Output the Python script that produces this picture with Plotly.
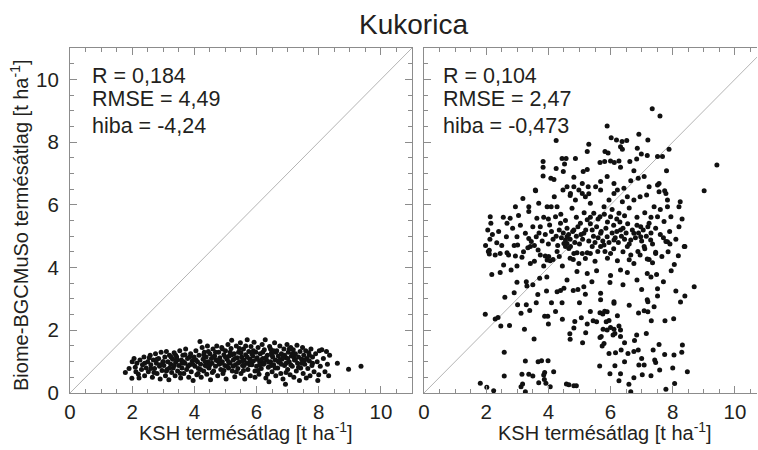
import plotly.graph_objects as go

# ---------------- data ----------------
title_text = "Kukorica"
x_title = "KSH termésátlag [t ha<sup>-1</sup>]"
y_title = "Biome-BGCMuSo termésátlag [t ha<sup>-1</sup>]"
left_stats = ["R = 0,184", "RMSE = 4,49", "hiba = -4,24"]
right_stats = ["R = 0,104", "RMSE = 2,47", "hiba = -0,473"]
tick_vals = [0, 2, 4, 6, 8, 10]
tick_text = ["0", "2", "4", "6", "8", "10"]
one_to_one = [0, 11]

left_ksh = [
    1.78, 1.99, 2.0, 2.06, 2.1, 2.15, 2.2, 2.22, 2.25, 2.3,
    2.33, 2.38, 2.4, 2.45, 2.5, 2.52, 2.58, 2.6, 2.65, 2.68,
    2.72, 2.75, 2.78, 2.8, 2.85, 2.88, 2.9, 2.93, 2.96, 2.99,
    3.02, 3.05, 3.07, 3.1, 3.12, 3.15, 3.18, 3.2, 3.24, 3.27,
    3.3, 3.32, 3.35, 3.38, 3.4, 3.43, 3.46, 3.5, 3.53, 3.56,
    3.58, 3.6, 3.63, 3.66, 3.7, 3.72, 3.75, 3.78, 3.82, 3.85,
    3.88, 3.9, 3.93, 3.96, 3.99, 4.02, 4.05, 4.08, 4.1, 4.13,
    4.15, 4.18, 4.2, 4.22, 4.25, 4.28, 4.3, 4.32, 4.35, 4.38,
    4.4, 4.42, 4.45, 4.47, 4.5, 4.52, 4.55, 4.57, 4.6, 4.62,
    4.65, 4.68, 4.7, 4.72, 4.75, 4.78, 4.8, 4.82, 4.85, 4.88,
    4.9, 4.92, 4.95, 4.98, 5.0, 5.02, 5.05, 5.08, 5.1, 5.12,
    5.15, 5.18, 5.2, 5.22, 5.25, 5.28, 5.3, 5.32, 5.35, 5.38,
    5.4, 5.42, 5.45, 5.48, 5.5, 5.52, 5.55, 5.58, 5.6, 5.62,
    5.65, 5.68, 5.7, 5.72, 5.75, 5.78, 5.8, 5.82, 5.85, 5.88,
    5.9, 5.92, 5.95, 5.98, 6.0, 6.02, 6.05, 6.08, 6.1, 6.12,
    6.15, 6.18, 6.2, 6.22, 6.25, 6.28, 6.3, 6.32, 6.35, 6.38,
    6.4, 6.42, 6.45, 6.48, 6.5, 6.52, 6.55, 6.58, 6.6, 6.62,
    6.65, 6.68, 6.7, 6.72, 6.75, 6.78, 6.8, 6.82, 6.85, 6.88,
    6.9, 6.93, 6.95, 6.98, 7.0, 7.02, 7.05, 7.08, 7.1, 7.12,
    7.15, 7.18, 7.2, 7.22, 7.25, 7.28, 7.3, 7.32, 7.35, 7.38,
    7.4, 7.42, 7.45, 7.48, 7.5, 7.52, 7.55, 7.58, 7.6, 7.62,
    7.65, 7.68, 7.7, 7.72, 7.75, 7.78, 7.8, 7.85, 7.9, 7.97,
    7.95, 8.0, 8.02, 8.05, 8.1, 8.15, 8.2, 8.25, 8.28, 8.32,
    8.6, 8.96, 9.36, 1.9, 2.12, 8.35,
    4.05, 4.2, 4.35, 4.5, 4.6, 4.75, 4.85, 5.0, 5.1, 5.2,
    5.3, 5.4, 5.5, 5.6, 5.7, 5.8, 5.9, 6.0, 6.1, 6.2,
    6.3, 6.4, 6.5, 6.6, 6.7, 6.8, 6.9, 7.0, 7.1, 7.2,
    3.0, 3.2, 3.4, 3.6, 3.8, 2.6, 2.8, 3.7, 3.55, 3.25,
    4.45, 4.9, 5.35, 5.65, 6.05, 6.45, 6.75, 7.05, 7.45, 7.7,
    4.12, 4.58, 5.05, 5.45, 5.95, 6.35, 6.62, 6.95, 7.25, 7.55,
    4.3, 4.68, 4.95, 5.25, 5.55, 5.85, 6.15, 6.48, 6.85, 7.15,
    4.4, 4.8, 5.15, 5.58, 5.78, 6.25, 6.55, 6.95, 7.35, 7.8,
    2.4, 2.55, 2.9, 3.1, 3.45, 3.65, 3.95, 3.85, 2.7, 3.35,
]
left_model = [
    0.65, 0.47, 1.0, 1.1, 0.82, 0.95, 0.6, 0.48, 1.05, 0.75,
    0.9, 1.15, 0.55, 0.8, 1.0, 0.68, 1.2, 0.9, 0.5, 1.05,
    0.78, 1.25, 0.95, 0.62, 1.1, 0.85, 0.45, 1.3, 0.72, 1.0,
    0.88, 1.15, 0.55, 1.32, 0.75, 1.0, 0.42, 1.2, 0.92, 0.65,
    1.08, 0.8, 1.28, 0.55, 0.98, 1.15, 0.7, 0.88, 1.35, 0.48,
    1.05, 0.8, 1.2, 0.62, 0.95, 1.4, 0.75, 1.1, 0.5, 0.9,
    1.25, 0.68, 1.02, 0.4, 1.15, 0.85, 1.35, 0.58, 1.0, 0.78,
    1.2, 1.64, 0.92, 0.5, 1.45, 1.08, 0.7, 1.3, 0.88, 1.15,
    0.6, 1.5, 1.0, 0.8, 1.25, 0.42, 1.1, 0.95, 1.4, 0.7,
    1.18, 0.85, 1.05, 1.5, 0.55, 1.3, 0.92, 1.12, 0.75, 1.45,
    1.0, 0.62, 1.22, 0.88, 1.35, 0.45, 1.08, 1.55, 0.8, 1.18,
    0.95, 1.42, 1.68, 0.7, 1.05, 1.25, 0.52, 0.9, 1.5, 1.12,
    0.78, 1.3, 1.0, 1.6, 0.62, 1.15, 0.88, 1.4, 1.05, 0.45,
    1.22, 0.95, 1.7, 0.75, 1.32, 1.08, 0.55, 1.48, 0.9, 1.18,
    1.02, 1.62, 0.7, 1.3, 0.85, 1.12, 1.45, 0.6, 1.0, 1.25,
    0.78, 1.55, 1.1, 0.92, 1.38, 1.7, 0.48, 1.05, 1.2, 0.82,
    0.36, 1.48, 1.0, 1.28, 0.68, 1.15, 0.9, 1.6, 1.05, 0.55,
    1.35, 0.8, 1.18, 0.98, 1.5, 0.62, 1.25, 1.08, 0.45, 1.4,
    0.88, 0.28, 1.12, 1.55, 0.75, 1.3, 1.0, 0.58, 1.45, 1.18,
    0.85, 1.38, 0.5, 1.05, 1.25, 0.7, 1.52, 0.95, 1.15, 0.4,
    1.32, 0.8, 1.08, 1.45, 0.62, 1.2, 0.92, 1.35, 0.48, 1.1,
    0.78, 1.28, 1.02, 0.55, 1.4, 0.88, 1.15, 0.68, 1.25, 0.4,
    1.0, 0.58, 1.35, 0.85, 1.38, 1.1, 0.68, 1.32, 0.92, 0.55,
    0.95, 0.76, 0.85, 0.78, 0.68, 1.2,
    1.05, 0.75, 1.0, 0.9, 1.15, 1.02, 0.95, 1.15, 1.0, 1.22,
    1.1, 0.95, 1.28, 0.88, 1.15, 1.0, 1.35, 1.08, 0.9, 1.3,
    1.12, 0.98, 1.2, 0.8, 1.02, 0.92, 1.2, 1.1, 0.9, 1.15,
    1.0, 0.8, 1.2, 0.95, 0.85, 0.78, 1.08, 1.22, 0.62, 1.15,
    1.32, 1.4, 0.68, 1.5, 0.72, 1.4, 1.05, 1.4, 0.95, 1.2,
    0.62, 0.65, 0.85, 1.42, 0.5, 0.6, 1.3, 0.65, 1.05, 1.05,
    1.22, 1.3, 0.72, 0.85, 1.02, 1.25, 1.05, 0.88, 1.15, 1.25,
    0.85, 1.05, 1.3, 0.72, 0.9, 0.95, 1.35, 0.95, 0.82, 0.95,
    0.95, 1.12, 0.9, 0.7, 1.05, 1.0, 0.92, 1.15, 0.65, 0.88,
]

right_ksh = [
    7.34, 7.59, 5.89, 6.91, 4.25, 6.02, 6.19, 6.37, 6.52, 7.2,
    5.3, 5.25, 5.82, 5.92, 6.32, 6.38, 6.86, 6.99, 7.18, 7.88,
    7.67, 7.51, 9.42, 9.01, 3.83, 3.83, 3.83, 4.08, 4.18, 4.25,
    4.48, 4.52, 4.44, 4.57, 4.87, 5.25, 5.12, 5.66, 5.81, 6.0,
    6.12, 6.27, 6.62, 6.84, 6.32, 6.75, 6.89, 6.65, 7.8, 7.51,
    7.56, 7.74, 7.83, 8.24, 8.2, 3.59, 3.18, 5.68, 5.52, 5.09,
    4.82, 5.89, 6.11, 6.43, 7.08, 7.24, 4.82, 5.68, 4.7, 5.3,
    2.13, 2.15, 2.34, 2.67, 2.77, 2.65, 2.94, 3.04, 2.99, 3.37,
    3.37, 3.26, 3.37, 3.58, 3.69, 3.63, 3.74, 3.61, 3.96, 4.09,
    4.19, 4.28, 4.23, 4.04, 4.39, 4.47, 4.6, 4.71, 4.76, 4.87,
    4.98, 5.09, 5.19, 5.28, 5.35, 5.46, 5.25, 5.03, 4.82, 4.6,
    4.5, 4.71, 5.14, 5.41, 5.68, 5.66, 5.79, 5.95, 6.11, 6.22,
    6.38, 6.54, 6.75, 6.95, 7.16, 7.4, 7.56, 7.78, 7.83, 7.51,
    7.24, 6.97, 6.75, 6.65, 6.32, 6.11, 5.89, 6.97, 7.29, 7.83,
    8.37, 7.72, 7.94, 6.0, 6.27, 5.41, 5.79, 6.54, 7.08, 2.1,
    2.07, 2.1, 2.29, 2.45, 2.67, 2.72, 2.56, 2.45, 2.18, 2.8,
    2.99, 2.94, 3.15, 3.01, 3.42, 3.45, 3.34, 3.67, 3.74, 3.9,
    3.96, 4.06, 4.15, 4.01, 4.28, 4.55, 4.6, 4.66, 4.82, 4.92,
    5.09, 5.25, 5.19, 4.8, 4.98, 4.92, 5.25, 5.59, 5.68, 5.82,
    6.0, 6.22, 6.32, 6.54, 6.65, 6.75, 6.88, 7.18, 7.24, 7.45,
    3.42, 3.72, 3.29, 2.99, 3.31, 7.45, 7.78, 7.91, 8.39, 8.18,
    3.01, 3.29, 3.12, 3.4, 3.61, 3.66, 3.94, 3.98, 3.23, 3.54,
    3.88, 4.23, 4.1, 4.44, 4.28, 4.39, 4.5, 4.8, 5.0, 5.14,
    5.19, 5.06, 4.85, 4.82, 4.69, 4.7, 1.97, 2.29, 2.38, 2.47,
    5.66, 5.75, 5.81, 5.89, 5.95, 5.86, 5.76, 5.89, 6.0, 6.11,
    6.27, 6.32, 6.14, 6.08, 6.32, 6.22, 6.11, 6.11, 5.98, 5.68,
    5.68, 5.44, 5.55, 5.25, 5.2, 5.7, 5.66, 5.73, 5.79, 5.95,
    6.16, 6.34, 6.56, 6.75, 6.89, 6.77, 6.84, 7.15, 7.08, 7.2,
    7.31, 7.18, 7.2, 7.51, 7.51, 7.48, 7.18, 8.03, 8.69, 8.39,
    1.81, 2.02, 2.24, 2.58, 2.58, 3.26, 3.37, 3.15, 3.5, 3.67,
    3.78, 3.99, 3.88, 3.85, 4.17, 3.69, 3.87, 3.92, 4.06, 3.12,
    3.17, 3.26, 4.58, 4.66, 4.82, 4.9, 5.65, 5.98, 6.14, 6.32,
    6.27, 6.45, 6.59, 6.65, 6.75, 6.91, 7.02, 7.08, 7.42, 7.45,
    7.58, 7.78, 7.56, 7.37, 7.74, 8.04, 8.29, 8.31, 8.47, 8.06,
    3.8, 3.9, 4.0, 4.1, 4.15, 4.25, 4.3, 4.35, 4.42, 4.48,
    4.55, 4.6, 4.65, 4.7, 4.78, 4.85, 4.9, 4.95, 5.0, 5.05,
    5.1, 5.2, 5.3, 5.35, 5.45, 5.5, 5.55, 5.6, 5.7, 5.75,
    5.85, 5.9, 5.95, 6.05, 6.1, 6.15, 6.2, 6.25, 6.3, 6.35,
    6.4, 6.45, 6.5, 6.55, 6.6, 6.7, 6.8, 6.85, 6.9, 7.0,
    7.05, 7.15, 7.2, 7.3, 7.35, 7.45, 7.6, 7.7, 7.9, 8.1,
    3.5, 3.55, 3.7, 3.85, 4.0, 4.4, 4.55, 4.9, 5.15, 5.35,
    5.6, 5.8, 6.05, 6.2, 6.45, 6.6, 6.85, 7.1, 7.3, 7.6,
    3.2, 3.55, 3.85, 4.35, 4.45, 4.7, 5.35, 5.5, 5.9, 6.1,
    6.4, 6.6, 6.95, 7.1, 7.35, 7.65, 7.85, 8.05, 8.2, 8.3,
    2.9, 3.5, 3.95, 4.6, 4.95, 5.4, 5.55, 6.0, 6.4, 6.85,
    7.0, 7.3, 7.7, 7.95, 8.1, 2.6, 4.0, 4.45, 5.35, 6.6,
    6.9, 7.4, 7.75, 8.25, 5.1, 6.45, 7.0, 7.3, 8.0, 2.75,
    2.05, 2.12, 1.98, 2.2, 2.4, 2.55, 2.85, 3.1, 2.5, 2.9,
]
right_model = [
    9.06, 8.83, 8.51, 8.25, 8.05, 8.14, 8.07, 8.02, 8.05, 8.07,
    7.93, 7.7, 7.7, 7.65, 7.85, 7.77, 7.8, 7.62, 7.57, 7.77,
    7.54, 7.54, 7.27, 6.45, 7.38, 7.2, 6.92, 6.85, 6.81, 7.16,
    7.06, 7.3, 7.48, 7.48, 7.48, 7.13, 7.06, 7.35, 7.38, 7.4,
    7.35, 7.4, 7.38, 7.46, 7.2, 7.09, 6.85, 6.77, 7.09, 6.63,
    6.68, 6.45, 6.15, 6.1, 5.94, 6.45, 6.2, 6.74, 6.58, 6.68,
    6.58, 6.9, 6.68, 6.53, 6.9, 6.58, 6.88, 6.47, 6.3, 6.35,
    5.62, 5.41, 4.79, 5.41, 5.57, 4.98, 5.94, 5.66, 4.98, 5.94,
    5.79, 5.09, 4.93, 6.47, 6.05, 5.57, 5.3, 4.98, 5.94, 5.94,
    6.26, 5.94, 5.62, 5.36, 5.41, 6.47, 6.58, 6.36, 5.89, 6.15,
    6.47, 6.36, 6.26, 6.58, 6.05, 5.73, 5.52, 5.41, 5.2, 4.98,
    4.77, 4.67, 5.09, 5.2, 5.09, 5.62, 5.94, 6.15, 6.36, 6.47,
    6.1, 6.26, 6.15, 6.26, 6.31, 5.94, 6.42, 6.36, 5.94, 5.62,
    5.41, 5.3, 5.09, 4.88, 5.2, 4.88, 4.98, 4.98, 4.88, 4.82,
    4.67, 5.47, 5.62, 5.62, 5.73, 4.67, 4.72, 4.67, 4.67, 4.55,
    4.51, 4.43, 4.4, 4.45, 4.47, 4.4, 4.08, 3.84, 3.78, 3.92,
    4.05, 4.37, 4.33, 4.72, 4.67, 4.83, 4.63, 4.56, 4.4, 4.37,
    4.24, 4.22, 4.26, 4.35, 4.51, 4.67, 4.77, 4.61, 4.45, 4.47,
    4.45, 4.47, 4.29, 4.26, 4.13, 3.87, 3.81, 4.51, 4.67, 4.51,
    4.45, 4.22, 3.92, 3.84, 4.4, 4.13, 4.51, 3.81, 4.26, 4.45,
    4.13, 3.66, 3.55, 3.53, 3.41, 4.49, 4.83, 4.75, 4.67, 4.38,
    2.81, 2.81, 2.54, 2.63, 2.88, 3.14, 3.25, 2.45, 2.03, 1.72,
    2.45, 2.6, 2.88, 2.88, 3.23, 3.27, 3.34, 3.27, 2.88, 3.39,
    3.15, 2.4, 2.28, 2.07, 1.89, 1.71, 2.51, 2.36, 2.41, 2.14,
    2.56, 2.52, 2.61, 2.59, 2.31, 2.27, 2.03, 2.01, 2.09, 2.03,
    2.14, 2.01, 1.9, 1.85, 1.8, 2.46, 2.86, 2.91, 3.52, 3.18,
    2.97, 2.3, 2.27, 2.2, 1.92, 1.8, 1.77, 1.5, 1.58, 1.26,
    1.28, 1.37, 1.26, 1.32, 1.37, 1.67, 1.85, 1.9, 2.62, 2.59,
    2.3, 2.97, 2.91, 3.09, 3.32, 3.78, 4.27, 2.37, 3.39, 3.09,
    0.31, 0.18, 0.07, 0.54, 1.3, 1.02, 0.6, 0.6, 0.54, 1.0,
    1.03, 1.03, 0.65, 0.57, 0.68, 0.33, 0.43, 0.31, 0.2, 0.2,
    0.29, 0.04, 0.29, 0.26, 0.23, 0.23, 0.86, 0.61, 0.87, 0.61,
    0.39, 1.0, 0.28, 0.04, 0.49, 0.89, 0.58, 0.89, 1.05, 0.97,
    0.73, 0.12, 1.55, 1.37, 1.23, 1.21, 1.3, 1.53, 0.68, 0.3,
    4.85, 5.05, 4.75, 5.15, 4.9, 5.0, 4.7, 5.2, 4.95, 5.1,
    4.88, 5.25, 5.05, 4.9, 5.15, 4.8, 5.0, 5.3, 4.75, 5.05,
    4.9, 5.2, 4.85, 5.4, 5.0, 4.8, 5.3, 4.95, 5.15, 4.85,
    5.25, 5.45, 4.8, 5.1, 5.35, 4.95, 5.15, 4.8, 5.45, 5.0,
    5.25, 4.9, 5.1, 5.4, 4.75, 5.2, 4.95, 5.35, 5.1, 4.85,
    5.2, 5.0, 5.3, 5.1, 4.75, 5.25, 5.05, 4.95, 5.15, 4.9,
    5.3, 4.7, 5.1, 5.6, 5.55, 5.7, 5.5, 5.6, 5.75, 5.6,
    5.55, 5.7, 5.85, 5.55, 5.65, 5.9, 5.6, 5.75, 5.6, 5.85,
    4.5, 4.2, 4.05, 4.35, 4.05, 4.3, 4.45, 4.2, 4.3, 4.6,
    4.5, 4.25, 4.4, 4.6, 4.15, 4.35, 4.5, 4.1, 5.3, 5.55,
    3.2, 3.45, 3.7, 3.6, 3.3, 3.55, 3.9, 3.75, 3.45, 3.6,
    3.3, 3.7, 3.55, 3.9, 3.25, 3.05, 2.2, 2.35, 2.6, 2.8,
    2.55, 2.75, 2.3, 2.9, 1.6, 1.6, 1.1, 0.55, 0.8, 2.15,
    5.2, 4.9, 4.7, 5.05, 5.15, 5.6, 5.25, 5.35, 4.7, 4.7,
]

assert len(left_ksh) == len(left_model)
assert len(right_ksh) == len(right_model)

# ---------------- styling ----------------
FONT = "Liberation Sans, Arial, sans-serif"
TEXT = "#231f20"
AXIS = "#8c8c8c"
DIAG = "#b4b4b4"

fig = go.Figure()
fig.add_trace(go.Scatter(x=one_to_one, y=one_to_one, mode="lines",
                         line=dict(color=DIAG, width=1), xaxis="x", yaxis="y",
                         hoverinfo="skip", showlegend=False))
fig.add_trace(go.Scatter(x=left_ksh, y=left_model, mode="markers",
                         marker=dict(color="#111111", size=5, line=dict(width=0)),
                         xaxis="x", yaxis="y", showlegend=False))
fig.add_trace(go.Scatter(x=one_to_one, y=one_to_one, mode="lines",
                         line=dict(color=DIAG, width=1), xaxis="x2", yaxis="y2",
                         hoverinfo="skip", showlegend=False))
fig.add_trace(go.Scatter(x=right_ksh, y=right_model, mode="markers",
                         marker=dict(color="#111111", size=5, line=dict(width=0)),
                         xaxis="x2", yaxis="y2", showlegend=False))

axis_common = dict(
    showgrid=False, zeroline=False, showline=True, linecolor=AXIS, linewidth=1,
    ticks="inside", ticklen=7, tickwidth=1, tickcolor=AXIS,
    tickvals=tick_vals, ticktext=tick_text,
    tickfont=dict(family=FONT, size=20.5, color=TEXT),
    minor=dict(dtick=0.5, ticks="inside", ticklen=4, tickwidth=1, tickcolor=AXIS),
)

fig.update_layout(
    width=758, height=450,
    margin=dict(l=70, r=1, t=48, b=57),
    paper_bgcolor="white", plot_bgcolor="white",
    font=dict(family=FONT, color=TEXT),
    title=dict(text=title_text, x=0.5, xref="paper", xanchor="center",
               y=0.947, yref="container", yanchor="middle",
               font=dict(family=FONT, size=28, color=TEXT)),
    xaxis=dict(domain=[0, 0.4978], range=[0, 11], anchor="y", mirror="ticks",
               ticklabelstandoff=0, **axis_common),
    yaxis=dict(domain=[0, 1], range=[0, 11], anchor="x", mirror="ticks",
               ticklabelstandoff=6, **axis_common),
    xaxis2=dict(domain=[0.5153, 1], range=[0, 10.71], anchor="y2", mirror="ticks",
                ticklabelstandoff=0, **axis_common),
    yaxis2=dict(domain=[0, 1], range=[0, 11], anchor="x2", mirror=False,
                showticklabels=False, **axis_common),
    showlegend=False,
)

annotations = []
stat_y = [0.9174, 0.8522, 0.7739]
for txt, yy in zip(left_stats, stat_y):
    annotations.append(dict(text=txt, x=0.029, y=yy, xref="paper", yref="paper",
                            xanchor="left", yanchor="middle", showarrow=False,
                            font=dict(family=FONT, size=21.5, color=TEXT)))
for txt, yy in zip(right_stats, stat_y):
    annotations.append(dict(text=txt, x=0.540, y=yy, xref="paper", yref="paper",
                            xanchor="left", yanchor="middle", showarrow=False,
                            font=dict(family=FONT, size=21.5, color=TEXT)))
for xx in (0.2562, 0.7787):
    annotations.append(dict(text=x_title, x=xx, y=-0.111, xref="paper", yref="paper",
                            xanchor="center", yanchor="middle", showarrow=False,
                            font=dict(family=FONT, size=20, color=TEXT)))
annotations.append(dict(text=y_title, x=-0.0728, y=0.487, xref="paper", yref="paper",
                        xanchor="center", yanchor="middle", textangle=-90, showarrow=False,
                        font=dict(family=FONT, size=20, color=TEXT)))
fig.update_layout(annotations=annotations)

fig.write_html("out.html")
